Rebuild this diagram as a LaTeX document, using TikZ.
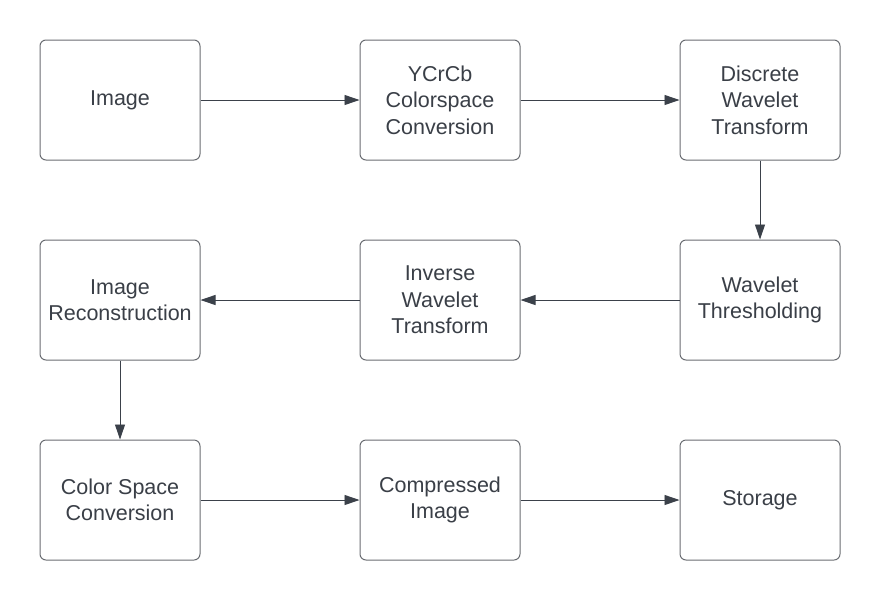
\documentclass[tikz,border=0pt]{standalone}
\usepackage{fontspec}
\setmainfont{Liberation Sans}
\usetikzlibrary{arrows.meta}
\definecolor{boxline}{HTML}{6A6D72}
\definecolor{arrowc}{HTML}{3B414A}
\definecolor{txt}{HTML}{3A3F47}
\tikzset{
  stepbox/.style={draw=boxline, line width=1pt, rounded corners=6pt, fill=white,
    minimum width=160pt, minimum height=120pt, inner sep=0pt, align=center,
    text=txt, font=\fontsize{21.5pt}{26.5pt}\selectfont},
  conn/.style={draw=arrowc, line width=0.9pt, -{Triangle[length=15pt,width=10pt]}}
}
\begin{document}
\begin{tikzpicture}[x=1pt,y=1pt]
\useasboundingbox (0,0) rectangle (880,-600);
\node[stepbox] (img) at (120,-100) {Image};
\node[stepbox] (ycc) at (440,-100) {YCrCb\\Colorspace\\Conversion};
\node[stepbox] (dwt) at (760,-100) {Discrete\\Wavelet\\Transform};
\node[stepbox] (rec) at (120,-300) {Image\\Reconstruction};
\node[stepbox] (iwt) at (440,-300) {Inverse\\Wavelet\\Transform};
\node[stepbox] (thr) at (760,-300) {Wavelet\\Thresholding};
\node[stepbox] (csc) at (120,-500) {Color Space\\Conversion};
\node[stepbox] (cmp) at (440,-500) {Compressed\\Image};
\node[stepbox] (sto) at (760,-500) {Storage};
\draw[conn] (img) -- (ycc);
\draw[conn] (ycc) -- (dwt);
\draw[conn] (dwt) -- (thr);
\draw[conn] (thr) -- (iwt);
\draw[conn] (iwt) -- (rec);
\draw[conn] (rec) -- (csc);
\draw[conn] (csc) -- (cmp);
\draw[conn] (cmp) -- (sto);
\end{tikzpicture}
\end{document}
